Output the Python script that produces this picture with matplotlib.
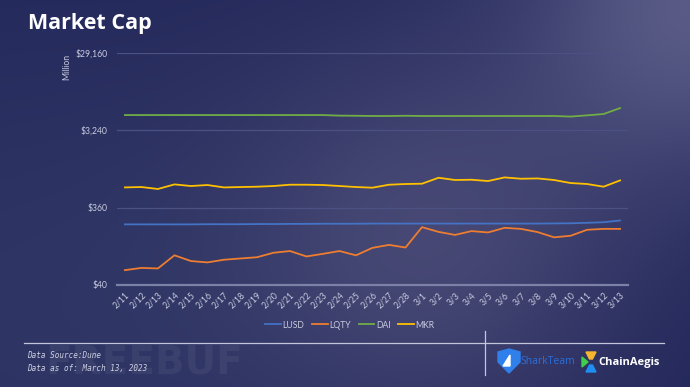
import numpy as np
import matplotlib.pyplot as plt
from matplotlib.patches import Polygon
from matplotlib.ticker import NullLocator

dates = ["2/11", "2/12", "2/13", "2/14", "2/15", "2/16", "2/17", "2/18", "2/19", "2/20",
         "2/21", "2/22", "2/23", "2/24", "2/25", "2/26", "2/27", "2/28", "3/1", "3/2",
         "3/3", "3/4", "3/5", "3/6", "3/7", "3/8", "3/9", "3/10", "3/11", "3/12", "3/13"]

# market cap, million USD
lusd = [224, 224, 224, 224, 224, 225, 225, 225, 226, 226,
        227, 227, 228, 228, 228, 229, 229, 229, 229, 229,
        229, 229, 229, 229, 229, 229, 230, 231, 234, 238, 250]
lqty = [61, 65, 64, 93, 79, 76, 82, 85, 88, 100,
        105, 90, 97, 105, 93, 115, 125, 116, 207, 181,
        166, 185, 178, 203, 197, 180, 155, 162, 192, 197, 197]
dai = [5000, 5000, 5000, 5000, 5000, 5000, 5000, 5000, 5000, 5000,
       5000, 5000, 5000, 4920, 4900, 4870, 4870, 4900, 4870, 4870,
       4870, 4870, 4870, 4870, 4870, 4870, 4870, 4790, 4960, 5150, 6100]
mkr = [640, 647, 612, 697, 666, 685, 640, 647, 653, 666,
       691, 691, 685, 666, 647, 635, 691, 705, 711, 842,
       790, 796, 767, 850, 819, 826, 790, 725, 705, 653, 781]

series = ["LUSD", "LQTY", "DAI", "MKR"]
colors = ["#4472c4", "#ed7d31", "#70ad47", "#ffc000"]

yticks = [40, 360, 3240, 29160]
ytick_labels = [r"\$40", r"\$360", r"\$3,240", r"\$29,160"]

W, H = 690, 387
fig = plt.figure(figsize=(W / 100, H / 100), dpi=100)

# background
bgax = fig.add_axes([0, 0, 1, 1], zorder=-1)
yy, xx = np.mgrid[0:H, 0:W]
bg = np.ones((H, W, 3)) * np.array([32, 37, 88]) / 255


def glow(cx, cy, r, col):
    g = np.exp(-((xx - cx) ** 2 + (yy - cy) ** 2) / (2 * r * r))
    return g[..., None] * np.array(col) / 255


bg += glow(430, 235, 150, (36, 32, 26))
bg += glow(700, 0, 120, (55, 52, 45))
bg += glow(0, 320, 220, (14, 16, 12))
bg = np.clip(bg, 0, 1)
bgax.imshow(bg, extent=(0, W, H, 0), aspect="auto")
bgax.set_xlim(0, W)
bgax.set_ylim(H, 0)
bgax.axis("off")

# main chart
ax = fig.add_axes([117 / W, 1 - 285 / H, (628 - 117) / W, (285 - 53) / H])
ax.set_facecolor("none")
x = np.arange(len(dates))
for name, vals, c in zip(series, [lusd, lqty, dai, mkr], colors):
    ax.plot(x, vals, color=c, lw=1.3, label=name, zorder=3)

ax.set_yscale("log")
ax.set_ylim(40, 29160)
ax.set_yticks(yticks)
ax.set_yticklabels(ytick_labels)
ax.yaxis.set_minor_locator(NullLocator())
ax.set_xlim(-0.48, len(dates) - 1 + 0.48)
ax.set_xticks(x)
ax.set_xticklabels(dates, rotation=45, ha="right", rotation_mode="anchor")
ax.grid(axis="y", color="#4b5183", lw=0.9)
for s in ["top", "right", "left"]:
    ax.spines[s].set_visible(False)
ax.spines["bottom"].set_color("#7c81a8")
ax.spines["bottom"].set_linewidth(1.6)
ax.tick_params(axis="both", length=0, labelsize=6.2, labelcolor="#c8cbe0", labelfontfamily="Lato")
ax.tick_params(axis="y", pad=7)
ax.tick_params(axis="x", pad=4)

fig.text(28 / W, 1 - 24 / H, "Market Cap", fontsize=15.5, fontweight="bold", color="white",
         va="center", ha="left", family="Open Sans")
fig.text(67 / W, 1 - 67 / H, "Million", rotation=90, ha="center", va="center",
         fontsize=6.2, color="#c8cbe0", family="Lato")

fig.legend(loc="center", bbox_to_anchor=(350 / W, 1 - 325 / H), ncol=4, frameon=False,
           labelcolor="#c8cbe0", handlelength=1.8, handletextpad=0.2,
           columnspacing=0.9, prop={"family": "Lato", "size": 6.2})

# footer
bgax.text(45, 362, "FREEBUF", fontsize=28, fontweight="bold", color="#7b80a0", alpha=0.15,
          va="center", ha="left", family="DejaVu Sans")
bgax.plot([24, 664], [343, 343], color="#c3c6da", lw=0.9)
bgax.plot([485, 485], [331, 375], color="#c3c6da", lw=0.9)
bgax.text(27, 356, "Data Source:Dune", fontsize=5.5, style="italic", color="#d0d3e4",
          va="center", family="DejaVu Sans Mono")
bgax.text(27, 368, "Data as of: March 13, 2023", fontsize=5.5, style="italic", color="#d0d3e4",
          va="center", family="DejaVu Sans Mono")

bgax.add_patch(Polygon([(498, 352), (509, 349), (520, 352), (520, 362), (509, 373), (498, 362)],
                       closed=True, color="#2f80ea"))
bgax.add_patch(Polygon([(503, 366), (510, 355), (510, 366)], closed=True, color="white"))
bgax.text(520, 362, "SharkTeam", fontsize=7.5, color="#2a6fdc", va="center", ha="left",
          family="Open Sans")
bgax.add_patch(Polygon([(586, 352), (596, 352), (592.5, 359), (589.5, 359)], closed=True, color="#f5b52e"))
bgax.add_patch(Polygon([(582, 357), (588, 362), (582, 367)], closed=True, color="#3fcf4a"))
bgax.add_patch(Polygon([(589.5, 365), (592.5, 365), (596, 372), (586, 372)], closed=True, color="#1f8ef0"))
bgax.text(598, 362, "ChainAegis", fontsize=8, fontweight="bold", color="white", va="center",
          ha="left", family="Open Sans")

fig.savefig("out.png", dpi=100)
